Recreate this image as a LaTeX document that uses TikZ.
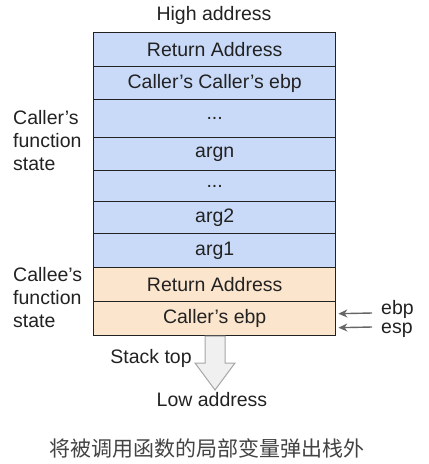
\documentclass[tikz,border=0pt]{standalone}
\usepackage{fontspec}
\usetikzlibrary{arrows.meta}
\setmainfont{Liberation Sans}
\newfontfamily\cjk{Noto Sans CJK SC}
\definecolor{rowblue}{HTML}{C9DAF8}
\definecolor{roworange}{HTML}{FCE5CD}
\definecolor{ink}{HTML}{222222}
\definecolor{arrowgray}{HTML}{666666}
\begin{document}
\begin{tikzpicture}[x=1pt,y=-1pt,
  cell/.style={draw=ink, line width=1.4pt, minimum width=242pt, inner sep=0pt,
    anchor=north west, font=\fontsize{19.5}{23}\selectfont, text=ink},
  bluecell/.style={cell, fill=rowblue},
  orangecell/.style={cell, fill=roworange},
  lbl/.style={font=\fontsize{19.5}{23}\selectfont, text=ink, inner sep=0pt},
  ptr/.style={draw=arrowgray, line width=1.4pt, -{Stealth[length=9pt,width=8pt]}},
  blockarrow/.style={draw=gray!70, fill=gray!12, line width=1pt}
]
\useasboundingbox (0,0) rectangle (429,464);
\node[lbl] (high) at (214,15) {High address};
\node[bluecell, minimum height=34pt] (r1) at (93,32) {Return Address};
\node[bluecell, minimum height=33pt] (r2) at (93,66) {Caller’s Caller’s ebp};
\node[bluecell, minimum height=38pt] (r3) at (93,99) {...};
\node[bluecell, minimum height=33pt] (r4) at (93,137) {argn};
\node[bluecell, minimum height=31pt] (r5) at (93,170) {...};
\node[bluecell, minimum height=32pt] (r6) at (93,201) {arg2};
\node[bluecell, minimum height=34pt] (r7) at (93,233) {arg1};
\node[orangecell, minimum height=34pt] (r8) at (93,267) {Return Address};
\node[orangecell, minimum height=34pt] (r9) at (93,301) {Caller’s ebp};
\node[lbl, align=left, anchor=west] (callerlbl) at (13,141) {Caller’s\\function\\state};
\node[lbl, align=left, anchor=west] (calleelbl) at (13,298) {Callee’s\\function\\state};
\node[lbl, anchor=base west] (ebplbl) at (381,314) {ebp};
\node[lbl, anchor=base west] (esplbl) at (381,333) {esp};
\coordinate (ebpS) at (372,313);
\coordinate (espS) at (372,327);
\draw[ptr] (ebpS) -- ([xshift=2pt,yshift=5pt]r9.east);
\draw[ptr] (espS) -- ([xshift=2pt,yshift=-9pt]r9.east);
\draw[blockarrow] (205,336) -- (225,336) -- (225,363) -- (235,363) -- (215,390) -- (195,363) -- (205,363) -- cycle;
\node[lbl] (stacktop) at (151,358) {Stack top};
\node[lbl] (low) at (212,400) {Low address};
\node[font=\cjk\fontsize{21}{25}\selectfont, text=ink!85, inner sep=0pt] (caption) at (207,448) {将被调用函数的局部变量弹出栈外};
\end{tikzpicture}
\end{document}
